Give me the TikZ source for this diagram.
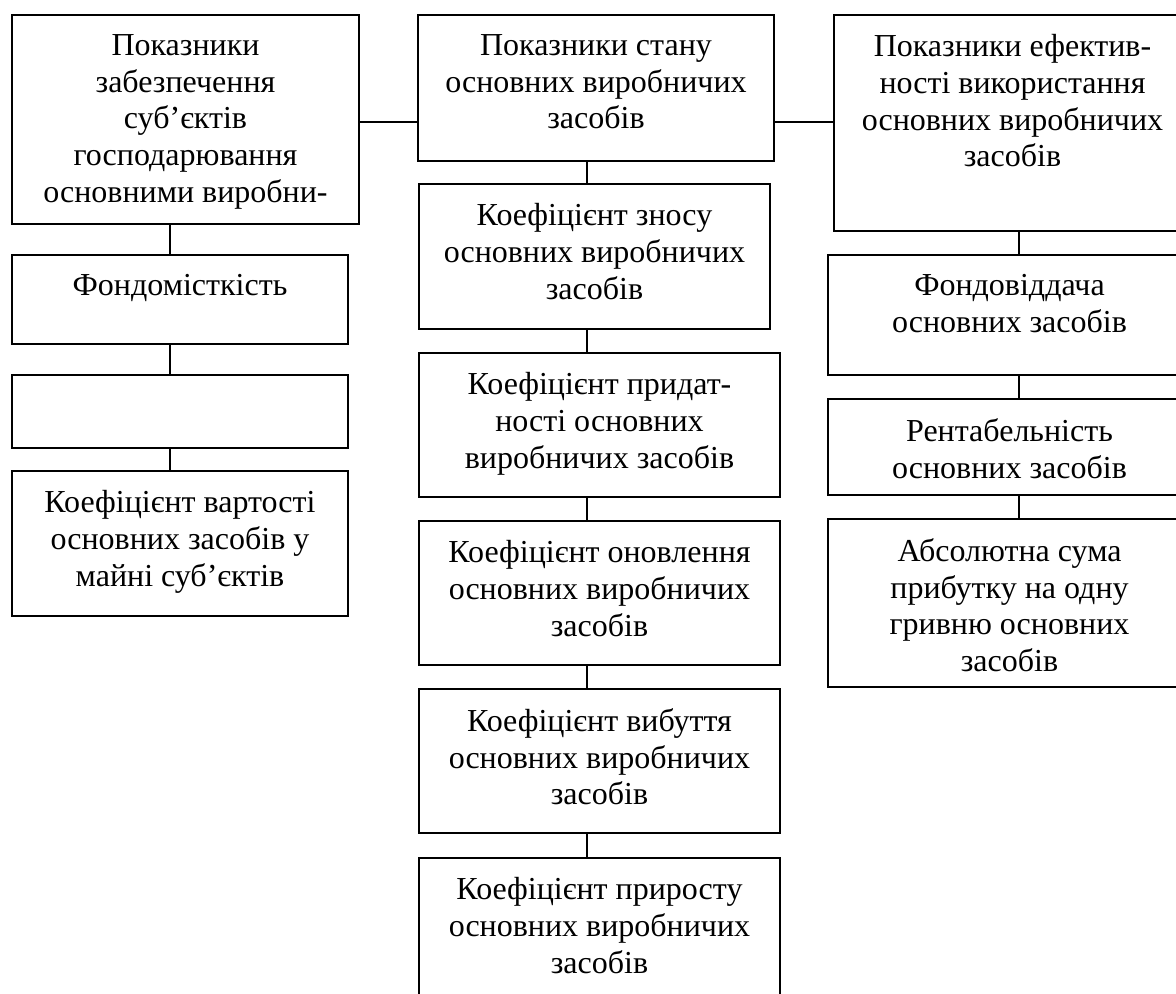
\documentclass[tikz,border=0pt]{standalone}
\usepackage{fontspec}
\setmainfont{Liberation Serif}
\usetikzlibrary{positioning}

\tikzstyle{block} = [draw, rectangle, line width=1pt, anchor=north west, inner sep=0pt]
\tikzstyle{caption} = [align=center, inner sep=0pt, font=\fontsize{16pt}{18.35pt}\selectfont]
\tikzstyle{link} = [line width=0.8pt]

\begin{document}
\begin{tikzpicture}[x=0.5pt, y=-0.5pt, node distance=10pt]
    \useasboundingbox (0,0) rectangle (1176,993);
    % left column
    \node [block, minimum width=173.5pt, minimum height=104.5pt] (l1) at (11,14) {};
    \node [block, minimum width=168pt, minimum height=44.5pt] (l2) at (11,254) {};
    \node [block, minimum width=168pt, minimum height=36.5pt] (l3) at (11,374) {};
    \node [block, minimum width=168pt, minimum height=72.5pt] (l4) at (11,470) {};
    % middle column
    \node [block, minimum width=178pt, minimum height=73pt] (m1) at (417,14) {};
    \node [block, minimum width=175.5pt, minimum height=72.5pt] (m2) at (418,183) {};
    \node [block, minimum width=180.5pt, minimum height=72pt] (m3) at (418,352) {};
    \node [block, minimum width=180.5pt, minimum height=72pt] (m4) at (418,520) {};
    \node [block, minimum width=180.5pt, minimum height=72pt] (m5) at (418,688) {};
    \node [block, minimum width=180.5pt, minimum height=76.5pt] (m6) at (418,857) {};
    % right column
    \node [block, minimum width=178.5pt, minimum height=108pt] (r1) at (833,14) {};
    \node [block, minimum width=181.5pt, minimum height=60pt] (r2) at (827,254) {};
    \node [block, minimum width=181.5pt, minimum height=48pt] (r3) at (827,398) {};
    \node [block, minimum width=181.5pt, minimum height=84pt] (r4) at (827,518) {};

    \node [caption, below=of l1.north] (l1t) {Показники\\забезпечення\\суб’єктів\\господарювання\\основними виробни-};
    \node [caption, below=of l2.north] (l2t) {Фондомісткість};
    \node [caption, below=of l4.north] (l4t) {Коефіцієнт вартості\\основних засобів у\\майні суб’єктів};
    \node [caption, below=of m1.north] (m1t) {Показники стану\\основних виробничих\\засобів};
    \node [caption, below=of m2.north] (m2t) {Коефіцієнт зносу\\основних виробничих\\засобів};
    \node [caption, below=of m3.north] (m3t) {Коефіцієнт придат-\\ності основних\\виробничих засобів};
    \node [caption, below=of m4.north] (m4t) {Коефіцієнт оновлення\\основних виробничих\\засобів};
    \node [caption, below=of m5.north] (m5t) {Коефіцієнт вибуття\\основних виробничих\\засобів};
    \node [caption, below=of m6.north] (m6t) {Коефіцієнт приросту\\основних виробничих\\засобів};
    \node [caption, below=of r1.north] (r1t) {Показники ефектив-\\ності використання\\основних виробничих\\засобів};
    \node [caption, below=of r2.north] (r2t) {Фондовіддача\\основних засобів};
    \node [caption, below=of r3.north] (r3t) {Рентабельність\\основних засобів};
    \node [caption, below=of r4.north] (r4t) {Абсолютна сума\\прибутку на одну\\гривню основних\\засобів};

    % links
    \coordinate (hy) at (0,122);
    \coordinate (lx) at (170,0);
    \coordinate (mx) at (587,0);
    \coordinate (rx) at (1019,0);
    \draw [link] (l1.east |- hy) -- (m1.west |- hy);
    \draw [link] (m1.east |- hy) -- (r1.west |- hy);
    \draw [link] (l1.south -| lx) -- (l2.north -| lx);
    \draw [link] (l2.south -| lx) -- (l3.north -| lx);
    \draw [link] (l3.south -| lx) -- (l4.north -| lx);
    \draw [link] (m1.south -| mx) -- (m2.north -| mx);
    \draw [link] (m2.south -| mx) -- (m3.north -| mx);
    \draw [link] (m3.south -| mx) -- (m4.north -| mx);
    \draw [link] (m4.south -| mx) -- (m5.north -| mx);
    \draw [link] (m5.south -| mx) -- (m6.north -| mx);
    \draw [link] (r1.south -| rx) -- (r2.north -| rx);
    \draw [link] (r2.south -| rx) -- (r3.north -| rx);
    \draw [link] (r3.south -| rx) -- (r4.north -| rx);
\end{tikzpicture}
\end{document}
